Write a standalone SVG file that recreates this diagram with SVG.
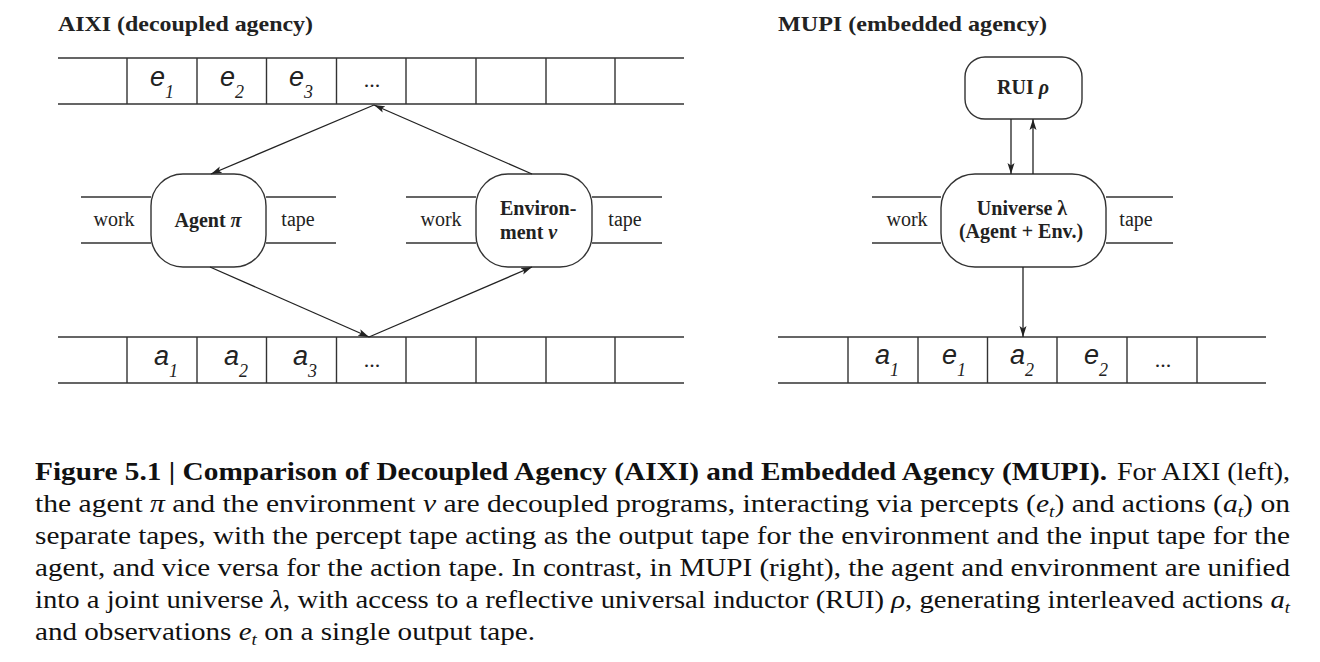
<svg xmlns="http://www.w3.org/2000/svg" width="1320" height="662" viewBox="0 0 1320 662">
<defs>
<marker id="ah" markerUnits="userSpaceOnUse" markerWidth="12" markerHeight="8" refX="11" refY="4" orient="auto">
<path d="M0,0.5 L11,4 L0,7.5 L2.5,4 z" fill="#222"/>
</marker>
<style>
.ln{stroke:#333;stroke-width:1.4;fill:none}
.node{stroke:#333;stroke-width:1.4;fill:#fff}
.title{font-family:"Liberation Serif",serif;font-weight:bold;font-size:22px;fill:#222}
.lbl{font-family:"Liberation Serif",serif;font-size:20px;fill:#222}
.nt{font-family:"Liberation Serif",serif;font-weight:bold;font-size:20px;fill:#222}
.sym{font-family:"Liberation Sans",sans-serif;font-style:italic;font-size:27px;fill:#222}
.sub{font-family:"Liberation Serif",serif;font-style:italic;font-size:18px}
.dots{font-family:"Liberation Serif",serif;font-size:22px;fill:#222}
.cap{font-family:"Liberation Serif",serif;font-size:26px;fill:#111}
.capb{font-family:"Liberation Serif",serif;font-size:26px;font-weight:bold;fill:#111}
.conn{stroke:#222;stroke-width:1.3;fill:none;marker-end:url(#ah)}
</style>
</defs>
<rect width="1320" height="662" fill="#fff"/>

<text class="title" x="58" y="31" textLength="255" lengthAdjust="spacingAndGlyphs">AIXI (decoupled agency)</text>
<text class="title" x="778" y="31" textLength="269" lengthAdjust="spacingAndGlyphs">MUPI (embedded agency)</text>

<g id="percept-tape">
<path class="ln" d="M58,58 H684 M58,104 H684 M127,58 V104 M197,58 V104 M266.5,58 V104 M336.5,58 V104 M406,58 V104 M476,58 V104 M546,58 V104 M615,58 V104"/>
<text class="sym" x="150" y="86">e<tspan class="sub" dy="12">1</tspan></text>
<text class="sym" x="220" y="86">e<tspan class="sub" dy="12">2</tspan></text>
<text class="sym" x="289" y="86">e<tspan class="sub" dy="12">3</tspan></text>
<text class="dots" x="372" y="87" text-anchor="middle">...</text>
</g>

<g id="action-tape">
<path class="ln" d="M58,337 H684 M58,383 H684 M127,337 V383 M197,337 V383 M266.5,337 V383 M336.5,337 V383 M406,337 V383 M476,337 V383 M546,337 V383 M615,337 V383"/>
<text class="sym" x="154" y="365">a<tspan class="sub" dy="12">1</tspan></text>
<text class="sym" x="224" y="365">a<tspan class="sub" dy="12">2</tspan></text>
<text class="sym" x="293" y="365">a<tspan class="sub" dy="12">3</tspan></text>
<text class="dots" x="372" y="367" text-anchor="middle">...</text>
</g>

<g id="agent">
<path class="ln" d="M81,197 H151 M81,243 H151 M266,197 H336 M266,243 H336"/>
<rect class="node" x="151" y="174" width="115" height="93" rx="32" ry="32"/>
<text class="lbl" x="114" y="226" text-anchor="middle">work</text>
<text class="nt" x="208" y="227" text-anchor="middle">Agent <tspan font-style="italic">π</tspan></text>
<text class="lbl" x="298" y="226" text-anchor="middle">tape</text>
</g>

<g id="environment">
<path class="ln" d="M406,197 H476 M406,243 H476 M592,197 H662 M592,243 H662"/>
<rect class="node" x="476" y="174" width="116" height="93" rx="32" ry="32"/>
<text class="lbl" x="441" y="226" text-anchor="middle">work</text>
<text class="nt" x="500" y="215">Environ-</text>
<text class="nt" x="500" y="239">ment <tspan font-style="italic">ν</tspan></text>
<text class="lbl" x="625" y="226" text-anchor="middle">tape</text>
</g>

<g id="rui">
<rect class="node" x="965" y="57" width="117" height="62" rx="20" ry="20"/>
<text class="nt" x="1023" y="94" text-anchor="middle">RUI <tspan font-style="italic">ρ</tspan></text>
</g>

<g id="universe">
<path class="ln" d="M872,197 H941 M872,243 H941 M1106,197 H1173 M1106,243 H1173"/>
<rect class="node" x="941" y="174" width="165" height="93" rx="34" ry="34"/>
<text class="lbl" x="907" y="226" text-anchor="middle">work</text>
<text class="nt" x="1022" y="215" text-anchor="middle">Universe λ</text>
<text class="nt" x="1021" y="238" text-anchor="middle">(Agent + Env.)</text>
<text class="lbl" x="1136" y="226" text-anchor="middle">tape</text>
</g>

<g id="output-tape">
<path class="ln" d="M778,337 H1266 M778,383 H1266 M848,337 V383 M918,337 V383 M987.5,337 V383 M1057,337 V383 M1127,337 V383 M1197,337 V383"/>
<text class="sym" x="875" y="364">a<tspan class="sub" dy="12">1</tspan></text>
<text class="sym" x="942" y="364">e<tspan class="sub" dy="12">1</tspan></text>
<text class="sym" x="1010" y="364">a<tspan class="sub" dy="12">2</tspan></text>
<text class="sym" x="1084" y="364">e<tspan class="sub" dy="12">2</tspan></text>
<text class="dots" x="1163" y="367" text-anchor="middle">...</text>
</g>

<g id="connectors">
<line class="conn" x1="374" y1="105" x2="211" y2="174"/>
<line class="conn" x1="532" y1="174" x2="374" y2="105"/>
<line class="conn" x1="210" y1="267" x2="369" y2="337"/>
<line class="conn" x1="369" y1="337" x2="532" y2="267"/>
<line class="conn" x1="1011" y1="119" x2="1011" y2="174"/>
<line class="conn" x1="1033" y1="174" x2="1033" y2="119"/>
<line class="conn" x1="1023" y1="267" x2="1023" y2="337"/>
</g>

<g id="caption">
<text class="capb" x="35" y="480" textLength="1072" lengthAdjust="spacingAndGlyphs">Figure 5.1 | Comparison of Decoupled Agency (AIXI) and Embedded Agency (MUPI).</text>
<text class="cap" x="1117" y="480" textLength="173" lengthAdjust="spacingAndGlyphs">For AIXI (left),</text>
<text class="cap" x="35" y="512" textLength="1255" lengthAdjust="spacingAndGlyphs">the agent <tspan font-style="italic">π</tspan> and the environment <tspan font-style="italic">ν</tspan> are decoupled programs, interacting via percepts (<tspan font-style="italic">e</tspan><tspan font-style="italic" font-size="17" dy="5">t</tspan><tspan dy="-5">) and actions (</tspan><tspan font-style="italic">a</tspan><tspan font-style="italic" font-size="17" dy="5">t</tspan><tspan dy="-5">) on</tspan></text>
<text class="cap" x="35" y="544" textLength="1255" lengthAdjust="spacingAndGlyphs">separate tapes, with the percept tape acting as the output tape for the environment and the input tape for the</text>
<text class="cap" x="35" y="576" textLength="1255" lengthAdjust="spacingAndGlyphs">agent, and vice versa for the action tape. In contrast, in MUPI (right), the agent and environment are unified</text>
<text class="cap" x="35" y="608" textLength="1255" lengthAdjust="spacingAndGlyphs">into a joint universe <tspan font-style="italic">λ</tspan>, with access to a reflective universal inductor (RUI) <tspan font-style="italic">ρ</tspan>, generating interleaved actions <tspan font-style="italic">a</tspan><tspan font-style="italic" font-size="17" dy="5">t</tspan></text>
<text class="cap" x="35" y="640" textLength="500" lengthAdjust="spacingAndGlyphs">and observations <tspan font-style="italic">e</tspan><tspan font-style="italic" font-size="17" dy="5">t</tspan><tspan dy="-5"> on a single output tape.</tspan></text>
</g>
</svg>
